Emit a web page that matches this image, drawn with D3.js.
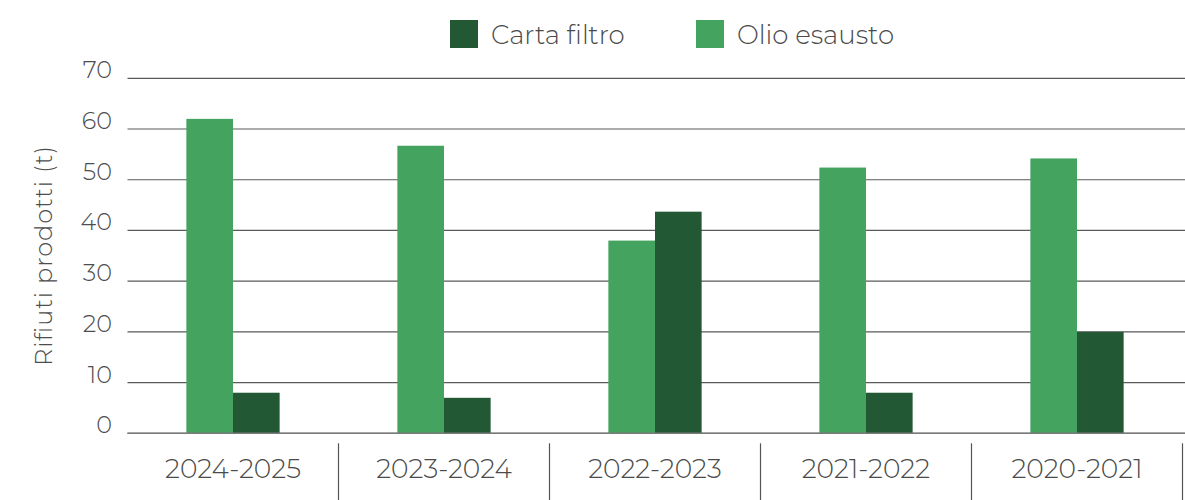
<!DOCTYPE html>
<html>
<head>
<meta charset="utf-8">
<script src="https://cdn.jsdelivr.net/npm/d3@7"></script>
<style>
  html, body { margin: 0; padding: 0; background: #fff; }
  svg { display: block; font-family: "Montserrat", "Lato", "Open Sans", sans-serif; font-weight: 300; }
</style>
</head>
<body>
<svg id="chart" width="1185" height="500"></svg>
<script>
// Waste produced per season, tonnes
const categories = ["2024-2025", "2023-2024", "2022-2023", "2021-2022", "2020-2021"];
const olioEsausto = [62, 56.7, 38, 52.4, 54.2];
const cartaFiltro = [8, 7, 43.7, 8, 20];
const yTicks = [0, 10, 20, 30, 40, 50, 60, 70];
const seriesNames = ["Olio esausto", "Carta filtro"];
const legendOrder = ["Carta filtro", "Olio esausto"];
const seriesColors = { "Olio esausto": "#43a35f", "Carta filtro": "#225934" };
const yTitle = "Rifiuti prodotti (t)";

const svg = d3.select("#chart");
const W = 1185, H = 500;
const plot = { left: 127.5, right: 1182.5, top: 78.3, bottom: 433.3 };

const x0 = d3.scaleBand().domain(categories).range([plot.left, plot.right]).padding(0);
const barW = x0.bandwidth() * 0.221;
const x1 = d3.scaleBand().domain(seriesNames)
  .range([x0.bandwidth() / 2 - barW, x0.bandwidth() / 2 + barW]).padding(0);
const y = d3.scaleLinear().domain([0, 70]).range([plot.bottom, plot.top]);

// Horizontal gridlines
svg.append("g")
  .selectAll("line")
  .data(yTicks)
  .join("line")
  .attr("x1", plot.left).attr("x2", W)
  .attr("y1", d => y(d)).attr("y2", d => y(d))
  .attr("stroke", "#5a5a5a").attr("stroke-width", 1.2);

// Y tick labels
const yAxis = d3.axisLeft(y).tickValues(yTicks).tickSize(0).tickPadding(0);
const gy = svg.append("g").attr("transform", `translate(112,0)`).call(yAxis)
  .attr("font-family", null).attr("font-size", null);
gy.select(".domain").remove();
gy.selectAll("text")
  .attr("font-size", 24).attr("fill", "#4d4d4d")
  .attr("dy", "-0.02em");

// Bars
const rows = categories.map((c, i) => ({ cat: c, values: { "Olio esausto": olioEsausto[i], "Carta filtro": cartaFiltro[i] } }));
const groups = svg.append("g").selectAll("g")
  .data(rows).join("g")
  .attr("transform", d => `translate(${x0(d.cat)},0)`);
groups.selectAll("rect")
  .data(d => seriesNames.map(s => ({ s, v: d.values[s] })))
  .join("rect")
  .attr("x", d => x1(d.s))
  .attr("width", x1.bandwidth())
  .attr("y", d => y(d.v))
  .attr("height", d => y(0) - y(d.v))
  .attr("fill", d => seriesColors[d.s]);

// Category axis with separators
const gx = svg.append("g").attr("transform", `translate(0,${plot.bottom})`);
gx.append("line").attr("x1", plot.left).attr("x2", W).attr("y1", 0).attr("y2", 0)
  .attr("stroke", "#7a7a7a").attr("stroke-width", 1.4);
gx.selectAll("line.sep")
  .data(categories)
  .join("line").attr("class", "sep")
  .attr("x1", d => x0(d) + x0.bandwidth()).attr("x2", d => x0(d) + x0.bandwidth())
  .attr("y1", 10).attr("y2", H - plot.bottom)
  .attr("stroke", "#555").attr("stroke-width", 1.2);
gx.selectAll("text")
  .data(categories)
  .join("text")
  .attr("x", d => x0(d) + x0.bandwidth() / 2)
  .attr("y", 45)
  .attr("text-anchor", "middle")
  .attr("font-size", 26.5).attr("fill", "#4a4a4a")
  .text(d => d);

// Y axis title
svg.append("text")
  .attr("transform", `translate(52,256) rotate(-90)`)
  .attr("text-anchor", "middle")
  .attr("font-size", 24).attr("fill", "#4d4d4d")
  .attr("textLength", 220).attr("lengthAdjust", "spacing")
  .text(yTitle);

// Legend
const legend = svg.append("g");
const legendX = d3.scalePoint().domain(legendOrder).range([450, 696]);
const items = legend.selectAll("g").data(legendOrder).join("g")
  .attr("transform", d => `translate(${legendX(d)},20)`);
items.append("rect").attr("width", 28).attr("height", 28).attr("fill", d => seriesColors[d]);
items.append("text").attr("x", 41).attr("y", 24)
  .attr("font-size", 26).attr("fill", "#4a4a4a")
  .text(d => d);
</script>
</body>
</html>
